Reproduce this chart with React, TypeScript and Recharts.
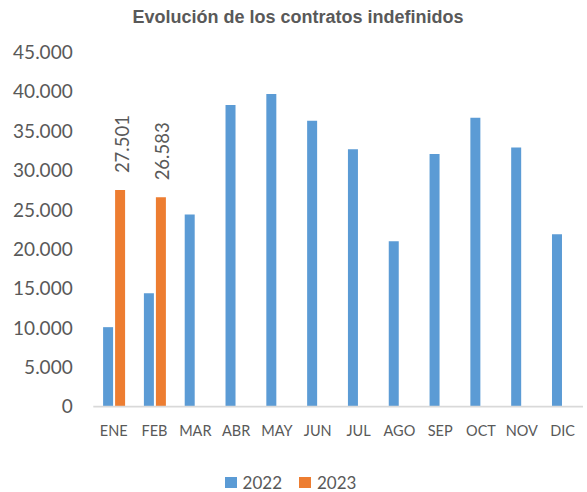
import React from 'react';
import { BarChart, Bar, XAxis, YAxis, Legend, LabelList } from 'recharts';

const months = ['ENE', 'FEB', 'MAR', 'ABR', 'MAY', 'JUN', 'JUL', 'AGO', 'SEP', 'OCT', 'NOV', 'DIC'];
const values2022 = [10100, 14400, 24400, 38300, 39700, 36300, 32700, 21000, 32100, 36700, 32900, 21900];
const values2023: (number | null)[] = [27501, 26583, null, null, null, null, null, null, null, null, null, null];
const yTicks = [0, 5000, 10000, 15000, 20000, 25000, 30000, 35000, 40000, 45000];

const data = months.map((m, i) => ({ month: m, y2022: values2022[i], y2023: values2023[i] }));

const BLUE = '#5B9BD5';
const ORANGE = '#ED7D31';
const TEXT = '#595959';
const FONT = 'Lato, "Noto Sans", sans-serif';

const fmt = (v: number) => String(v).replace(/\B(?=(\d{3})+(?!\d))/g, '.');

const RotLabel = (props: any) => {
  const { x, y, width, value } = props;
  if (value == null) return null;
  const cx = Number(x) + Number(width) / 2 + 1.5;
  const ty = Number(y) - 17;
  return (
    <text
      x={cx}
      y={ty}
      transform={`rotate(-90, ${cx}, ${ty})`}
      textAnchor="start"
      dominantBaseline="central"
      fill={TEXT}
      style={{ fontFamily: FONT, fontSize: 18.5 }}
    >
      {fmt(Number(value))}
    </text>
  );
};

const LegendContent = () => (
  <div style={{ display: 'flex', justifyContent: 'center', alignItems: 'center', fontFamily: FONT, fontSize: 17, color: TEXT, paddingRight: 6 }}>
    <span style={{ display: 'inline-block', width: 12, height: 11, background: BLUE, marginRight: 6 }} />
    <span style={{ marginRight: 17 }}>2022</span>
    <span style={{ display: 'inline-block', width: 12, height: 11, background: ORANGE, marginRight: 6 }} />
    <span>2023</span>
  </div>
);

export default function App() {
  return (
    <div style={{ position: 'absolute', left: 0, top: 0, width: 587, height: 492, background: '#fff' }}>
      <div
        style={{
          position: 'absolute',
          top: 5,
          left: 0,
          width: 596,
          textAlign: 'center',
          fontFamily: '"Liberation Sans", Arial, sans-serif',
          fontWeight: 'bold',
          fontSize: 18,
          color: TEXT,
          lineHeight: '24px',
        }}
      >
        Evolución de los contratos indefinidos
      </div>
      <BarChart
        width={587}
        height={492}
        data={data}
        margin={{ top: 52.3, right: 4, bottom: 55.3, left: 0 }}
        barCategoryGap="24%"
        barGap={2}
      >
        <XAxis
          dataKey="month"
          height={30}
          tickSize={0}
          tickMargin={19}
          axisLine={{ stroke: '#D9D9D9', strokeWidth: 1.7 }}
          tick={{ fill: TEXT, fontSize: 14.5, fontFamily: FONT }}
          interval={0}
        />
        <YAxis
          width={93.3}
          domain={[0, 45000]}
          ticks={yTicks}
          tickFormatter={fmt}
          tickSize={0}
          tickMargin={20.6}
          axisLine={false}
          tick={{ fill: TEXT, fontSize: 19, fontFamily: FONT }}
          interval={0}
        />
        <Legend
          layout="horizontal"
          verticalAlign="middle"
          align="center"
          content={<LegendContent />}
          wrapperStyle={{ top: 472, left: 0, width: 587, height: 22 }}
        />
        <Bar dataKey="y2022" name="2022" fill={BLUE} isAnimationActive={false} />
        <Bar dataKey="y2023" name="2023" fill={ORANGE} isAnimationActive={false}>
          <LabelList dataKey="y2023" content={<RotLabel />} />
        </Bar>
      </BarChart>
    </div>
  );
}
